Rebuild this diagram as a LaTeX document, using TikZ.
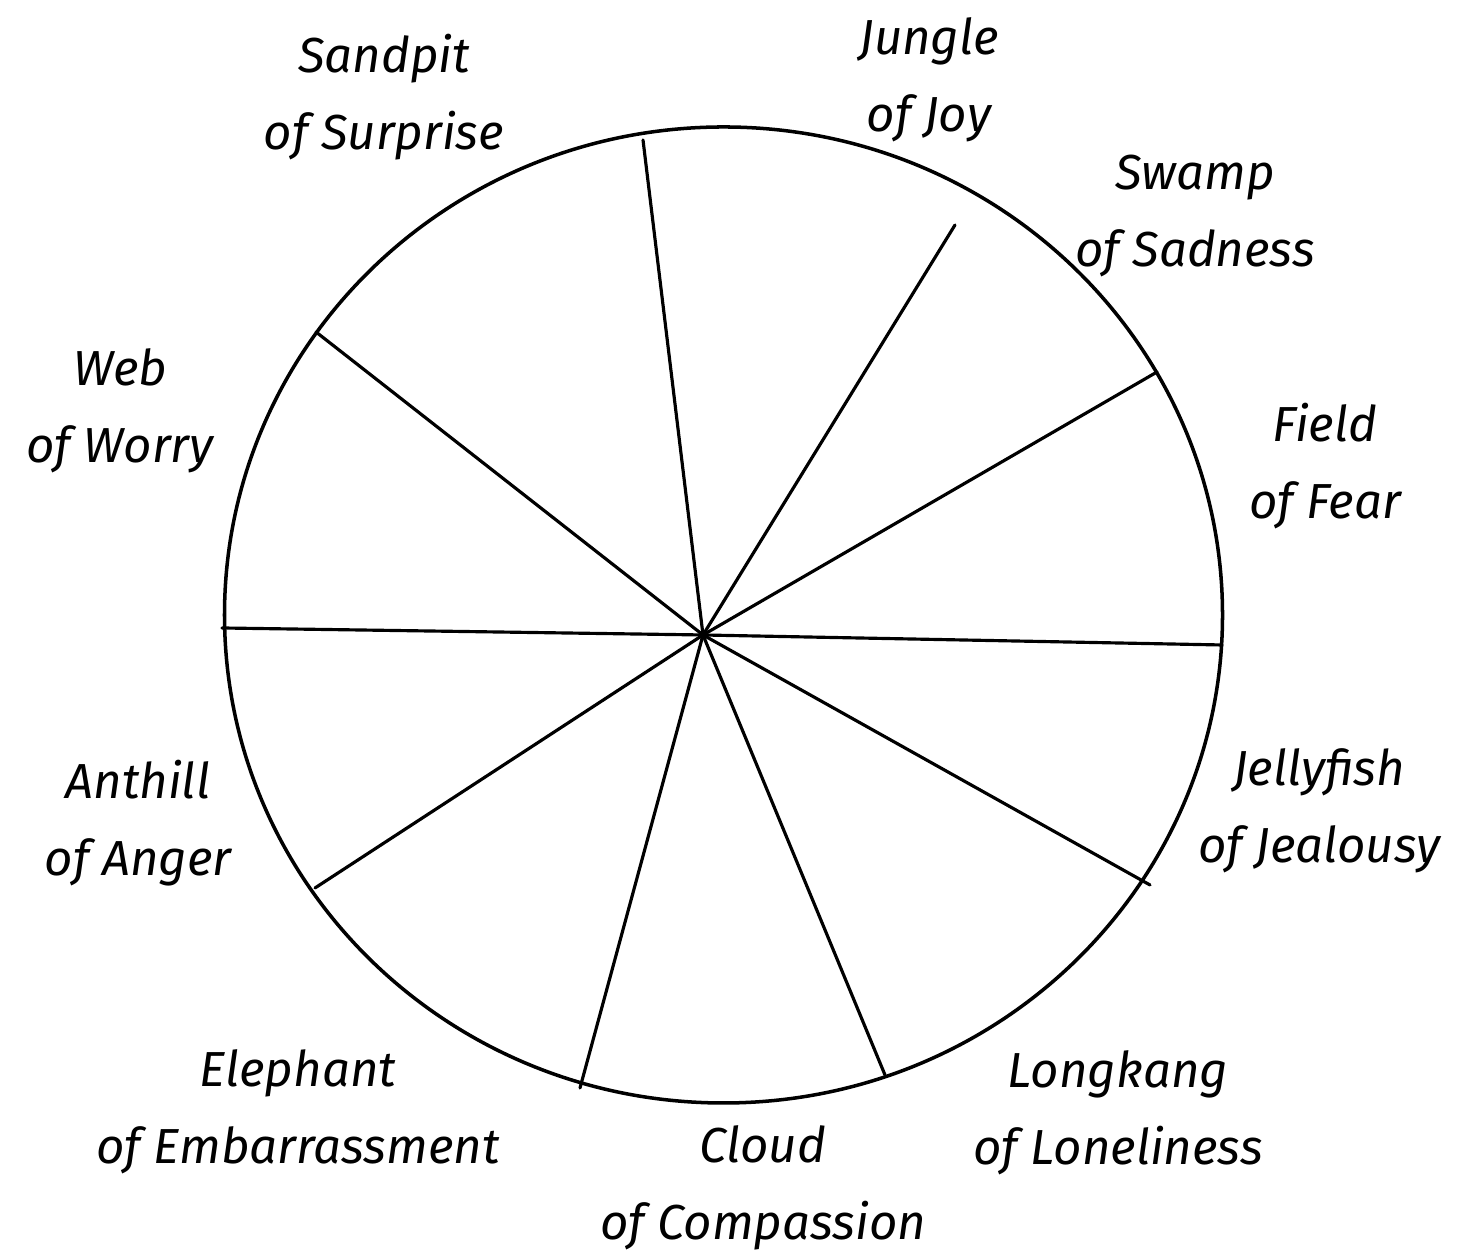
\documentclass[tikz,border=0pt]{standalone}
\usepackage{fontspec}
\setmainfont{Fira Sans}
\begin{document}
\begin{tikzpicture}[
    rim/.style={draw=black, line width=1pt, line cap=round},
    spoke/.style={draw=black, line width=0.9pt, line cap=round},
    place/.style={font=\fontsize{14}{22}\selectfont\itshape, align=center}
]
    \useasboundingbox (0,0) rectangle (14.58,12.57);
    \coordinate (hub) at (7.03,6.22);
    % rim of the wheel
    \draw[rim] (7.235,6.42) ellipse [x radius=4.99, y radius=4.88];
    % spoke ends
    \coordinate (surprise) at (6.43,11.17);
    \coordinate (joy) at (9.55,10.32);
    \coordinate (sadness) at (11.57,8.85);
    \coordinate (fear) at (12.22,6.12);
    \coordinate (jealousy) at (11.50,3.72);
    \coordinate (loneliness) at (8.85,1.82);
    \coordinate (compassion) at (5.80,1.69);
    \coordinate (embarrass) at (3.15,3.69);
    \coordinate (anger) at (2.22,6.29);
    \coordinate (worry) at (3.16,9.25);
    \draw[spoke] (hub) -- (surprise);
    \draw[spoke] (hub) -- (joy);
    \draw[spoke] (hub) -- (sadness);
    \draw[spoke] (hub) -- (fear);
    \draw[spoke] (hub) -- (jealousy);
    \draw[spoke] (hub) -- (loneliness);
    \draw[spoke] (hub) -- (compassion);
    \draw[spoke] (hub) -- (embarrass);
    \draw[spoke] (hub) -- (anger);
    \draw[spoke] (hub) -- (worry);
    % labels
    \node[place] (lsurprise) at (3.84,11.60) {Sandpit\\of Surprise};
    \node[place] (ljoy) at (9.29,11.77) {Jungle\\of Joy};
    \node[place] (lsadness) at (11.95,10.41) {Swamp\\of Sadness};
    \node[place] (lfear) at (13.25,7.91) {Field\\of Fear};
    \node[place] (ljealousy) at (13.19,4.46) {Jellyfish\\of Jealousy};
    \node[place] (lloneliness) at (11.18,1.44) {Longkang\\of Loneliness};
    \node[place] (lcompassion) at (7.63,0.69) {Cloud\\of Compassion};
    \node[place] (lembarrass) at (2.98,1.45) {Elephant\\of Embarrassment};
    \node[place] (langer) at (1.38,4.34) {Anthill\\of Anger};
    \node[place] (lworry) at (1.20,8.46) {Web\\of Worry};
\end{tikzpicture}
\end{document}
